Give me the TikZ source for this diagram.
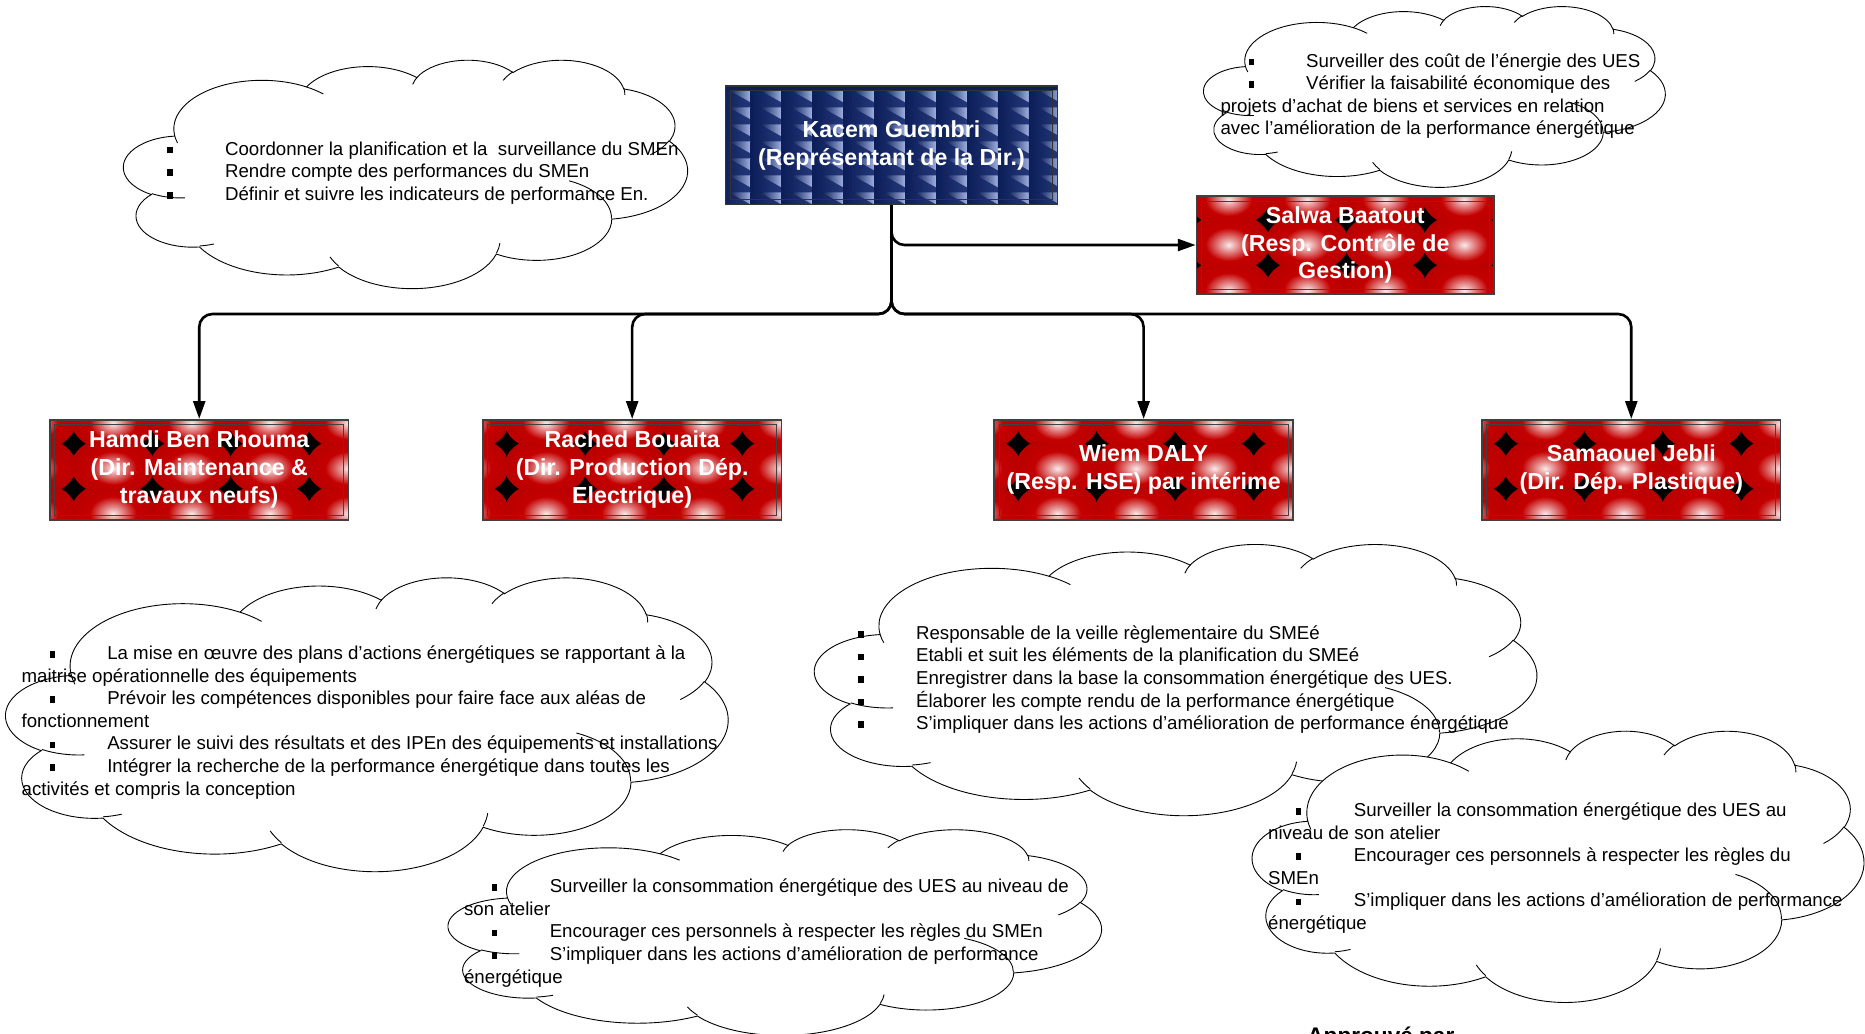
\documentclass[tikz,border=0pt]{standalone}
\usepackage{fontspec}
\setmainfont{Liberation Sans}
\usetikzlibrary{arrows.meta,calc}
\definecolor{redA}{RGB}{196,0,0}
\definecolor{navyA}{RGB}{12,30,88}
\definecolor{navyM}{RGB}{36,56,122}
\definecolor{tileL}{RGB}{160,176,225}
\pgfdeclareradialshading{sphereshade}{\pgfpoint{0bp}{-2bp}}{color(0bp)=(white!92!redA); color(4bp)=(white!65!redA); color(14bp)=(redA); color(50bp)=(redA!82!black)}
\newcommand\bul{\hspace*{23.5pt}\makebox[48.5pt][l]{\rule[1.5pt]{4.5pt}{5.5pt}}}
\newcommand\redpattern[1]{%
  \fill[black] (path picture bounding box.south west) rectangle (path picture bounding box.north east);
  \foreach \c in {-1,...,4}{\foreach \r in {-1,0,1}{%
    \begin{scope}
      \clip ($(path picture bounding box.north west)+(#1+66*\c,20+38*\r)$) rectangle ++(66,38);
      \shade[shading=sphereshade] ($(path picture bounding box.north west)+(#1+33+66*\c,39+38*\r)$) ellipse[x radius=35, y radius=25];
    \end{scope}}}%
  \draw[line width=0.8pt] ($(path picture bounding box.north west)+(4,4)$) rectangle ($(path picture bounding box.south east)+(-4,-4)$);
}
\newcommand\bluepattern{%
  \fill[navyA] (path picture bounding box.south west) rectangle (path picture bounding box.north east);
  \foreach \c in {0,...,11}{\foreach \r in {0,...,7}{%
    \shade[left color=navyA, right color=navyM]
      ($(path picture bounding box.north west)+(-5+26*\c,4+14.3*\r)$) rectangle ++(26,14.3);
    \shade[left color=navyA, right color=tileL]
      ($(path picture bounding box.north west)+(3+26*\c,4+14.3*\r)$) -- ++(18,0) -- ++(0,10) -- cycle;}}%
  \draw[line width=0.8pt] ($(path picture bounding box.north west)+(4,4)$) rectangle ($(path picture bounding box.south east)+(-4,-4)$);
}
\newcommand\cloudshape[5]{% name x0 y0 x1 y1
  \pgfmathsetmacro\cw{(#4-#2)/432}\pgfmathsetmacro\ch{(#5-#3)/432}%
  \begin{scope}[shift={(#2,#3)}, x=\cw pt, y=-\ch pt]
    \draw[cloudline, fill=white] (39.00,143.70)
      arc[start angle=-187.75, delta angle=128.13, x radius=67.53, y radius=91.90]
      arc[start angle=-152.02, delta angle=106.55, x radius=53.33, y radius=72.67]
      arc[start angle=-153.48, delta angle=116.16, x radius=43.65, y radius=59.45]
      arc[start angle=-139.71, delta angle=129.49, x radius=48.57, y radius=65.95]
      arc[start angle=-74.76, delta angle=97.98, x radius=53.33, y radius=72.73]
      arc[start angle=-37.52, delta angle=119.38, x radius=67.75, y radius=92.20]
      arc[start angle=0.46, delta angle=121.51, x radius=57.85, y radius=78.67]
      arc[start angle=16.85, delta angle=129.39, x radius=67.52, y radius=92.15]
      arc[start angle=59.01, delta angle=91.16, x radius=77.20, y radius=105.43]
      arc[start angle=-276.70, delta angle=139.81, x radius=43.60, y radius=59.18]
      arc[start angle=-239.63, delta angle=143.74, x radius=43.45, y radius=59.45] -- cycle;
    \draw[cloudline]
      (46.93,261.77) arc[start angle=85.54, delta angle=34.83, x radius=43.45, y radius=59.45]
      (69.28,348.99) arc[start angle=68.25, delta angle=15.05, x radius=43.60, y radius=59.18]
      (164.78,390.90) arc[start angle=146.24, delta angle=12.23, x radius=67.52, y radius=92.15]
      (288.27,347.51) arc[start angle=4.74, delta angle=12.11, x radius=67.52, y radius=92.15]
      (341.29,229.54) arc[start angle=-64.00, delta angle=64.46, x radius=57.85, y radius=78.67]
      (417.98,153.54) arc[start angle=23.22, delta angle=26.43, x radius=53.33, y radius=72.73]
      (383.24,54.26) arc[start angle=-10.22, delta angle=11.04, x radius=48.57, y radius=65.95]
      (290.78,39.52) arc[start angle=-156.28, delta angle=16.57, x radius=48.57, y radius=65.95]
      (221.41,47.20) arc[start angle=-167.72, delta angle=14.24, x radius=43.65, y radius=59.45]
      (140.00,51.92) arc[start angle=-59.62, delta angle=13.88, x radius=67.53, y radius=91.90]
      (41.27,157.89) arc[start angle=163.19, delta angle=9.06, x radius=67.53, y radius=91.90];
    \coordinate (#1) at (216,216);
  \end{scope}}
\tikzset{
  cloudline/.style={line width=0.75pt, black},
  ctext/.style={font=\fontsize{15.7}{19}\selectfont, align=left, inner sep=0pt, anchor=base west},
  boxtext/.style={text=white, font=\bfseries\fontsize{19.5}{23.5}\selectfont, align=center, inner sep=0pt},
  redbox/.style={boxtext, draw=black!75, line width=1.5pt, minimum width=251pt, minimum height=84pt, path picture={\redpattern{#1}}},
  bluebox/.style={boxtext, draw=black!80, line width=1.5pt, minimum width=279pt, minimum height=100pt, path picture={\bluepattern}},
  conn/.style={line width=2.2pt, rounded corners=11pt},
  tip/.style={-{Triangle[length=15pt,width=10pt]}}
}
\begin{document}
\begin{tikzpicture}[x=1pt, y=-1pt]
  \useasboundingbox (0,0) rectangle (1568,869.3);
  \clip (0,0) rectangle (1568,869.3);
  % clouds
  \cloudshape{cTL}{104}{50}{578}{242}
  \cloudshape{cTR}{1012}{5}{1400}{157}
  \cloudshape{cBL}{5}{485}{612}{732}
  \cloudshape{cMR}{685}{457}{1292}{685}
  \cloudshape{cBR}{1053}{614}{1567}{842}
  \cloudshape{cBM}{377}{697}{926}{870}
  % boxes
  \node[bluebox] (kacem) at (749.5,122) {Kacem Guembri\\(Représentant de la Dir.)};
  \node[redbox=60, minimum width=250pt, minimum height=82pt] (salwa) at (1131,206) {Salwa Baatout\\(Resp. Contrôle de\\Gestion)};
  \node[redbox=20] (hamdi) at (167.5,395) {Hamdi Ben Rhouma\\(Dir. Maintenance \&\\travaux neufs)};
  \node[redbox=20] (rached) at (531.5,395) {Rached Bouaita\\(Dir. Production Dép.\\Electrique)};
  \node[redbox=20] (wiem) at (961.5,395) {Wiem DALY\\(Resp. HSE) par intérime};
  \node[redbox=20] (samaouel) at (1371.5,395) {Samaouel Jebli\\(Dir. Dép. Plastique)};
  % connectors
  \coordinate (bus) at (749.5,264);
  \draw[conn, tip] (kacem.south) |- (salwa.west);
  \draw[conn, tip] (kacem.south) |- (hamdi.north |- bus) -- (hamdi.north);
  \draw[conn, tip] (kacem.south) |- (rached.north |- bus) -- (rached.north);
  \draw[conn, tip] (kacem.south) |- (wiem.north |- bus) -- (wiem.north);
  \draw[conn, tip] (kacem.south) |- (samaouel.north |- bus) -- (samaouel.north);
  % cloud texts (anchor = baseline of last line)
  \node[ctext] (tTL) at (117,168.5) {\bul Coordonner la planification et la\ \ surveillance du SMEn\\
    \bul Rendre compte des performances du SMEn\\
    \bul Définir et suivre les indicateurs de performance En.};
  \node[ctext] (tTR) at (1026,113.5) {\bul Surveiller des coût de l’énergie des UES\\
    \bul Vérifier la faisabilité économique des\\
    projets d’achat de biens et services en relation\\
    avec l’amélioration de la performance énergétique};
  \node[ctext] (tBL) at (18,668.5) {\bul La mise en œuvre des plans d’actions énergétiques se rapportant à la\\
    maitrise opérationnelle des équipements\\
    \bul Prévoir les compétences disponibles pour faire face aux aléas de\\
    fonctionnement\\
    \bul Assurer le suivi des résultats et des IPEn des équipements et installations\\
    \bul Intégrer la recherche de la performance énergétique dans toutes les\\
    activités et compris la conception};
  \node[ctext] (tMR) at (698,613.5) {\bul Responsable de la veille règlementaire du SMEé\\
    \bul Etabli et suit les éléments de la planification du SMEé\\
    \bul Enregistrer dans la base la consommation énergétique des UES.\\
    \bul Élaborer les compte rendu de la performance énergétique\\
    \bul S’impliquer dans les actions d’amélioration de performance énergétique};
  \node[ctext] (tBM) at (390,826.5) {\bul Surveiller la consommation énergétique des UES au niveau de\\
    son atelier\\
    \bul Encourager ces personnels à respecter les règles du SMEn\\
    \bul S’impliquer dans les actions d’amélioration de performance\\
    énergétique};
  \node[ctext] (tBR) at (1066,781.5) {\bul Surveiller la consommation énergétique des UES au\\
    niveau de son atelier\\
    \bul Encourager ces personnels à respecter les règles du\\
    SMEn\\
    \bul S’impliquer dans les actions d’amélioration de performance\\
    énergétique};
  \node[font=\bfseries\fontsize{19}{23}\selectfont, inner sep=0pt, anchor=base west] (appr) at (1099,877.6) {Approuvé par};
\end{tikzpicture}
\end{document}
